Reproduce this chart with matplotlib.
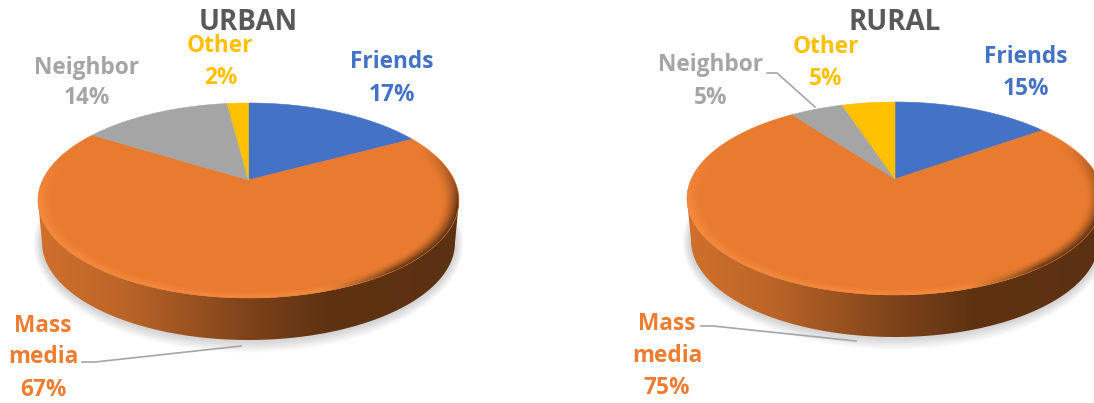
# two tilted pie charts with a thick rim, urban vs rural
import numpy as np
from matplotlib import pyplot as plt
from matplotlib.patches import Polygon
from matplotlib.path import Path
from matplotlib.transforms import Affine2D, Transform
from matplotlib.colors import LinearSegmentedColormap

categories = ['Friends', 'Mass\nmedia', 'Neighbor', 'Other']
urban_values = [17, 67, 14, 2]
rural_values = [15, 75, 5, 5]
colors = ['#4472C4', '#E97B30', '#A5A5A5', '#FFC000']
label_colors = ['#4472C4', '#ED7D31', '#A5A5A5', '#FFC000']

plt.rcParams['font.family'] = ['Open Sans', 'DejaVu Sans']

W, H = 1094, 403


# maps the unit disc of ax.pie onto a pie seen in perspective (pixel coordinates)
class DiscPerspective(Transform):
    input_dims = 2
    output_dims = 2
    has_inverse = False

    def __init__(self, cx, apex_y, top, bottom, half_width):
        super().__init__()
        self.cx = cx
        self.apex_y = apex_y
        self.k = (top + bottom - 2 * apex_y) / (bottom - top)
        self.b = top * (1 + self.k) - apex_y
        self.c = half_width * np.sqrt(1 - self.k ** 2)

    def transform_non_affine(self, values):
        values = np.asarray(values, dtype=float)
        x, y = values[:, 0], values[:, 1]
        d = 1 + self.k * y
        return np.column_stack([self.cx + self.c * x / d, (self.apex_y + self.b * y) / d])

    def transform_path_non_affine(self, path):
        # flatten the arcs first, control points do not survive the projection
        big = path.transformed(Affine2D().scale(500)).to_polygons(closed_only=True)[0] / 500
        return Path(self.transform_non_affine(big), closed=True)


def half_ellipse(cx, cy, rx, ry, start, end, n=200):
    t = np.linspace(start, end, n)
    return np.column_stack([cx + rx * np.cos(t), cy + ry * np.sin(t)])


def draw_pie(ax, values, cx, apex_y, top, bottom, half_width, rim):
    cy = (top + bottom) / 2
    ry = (bottom - top) / 2

    # soft shadow under the rim
    for i in range(14):
        grow = 14 - i
        pts = half_ellipse(cx, cy + rim + 1, half_width + grow * 0.55 - 3, ry + grow * 0.85, 0, 2 * np.pi)
        ax.add_patch(Polygon(pts, closed=True, fc='#000000', ec='none', alpha=0.011, zorder=1))

    # rim, darkening from left to right
    rim_cmap = LinearSegmentedColormap.from_list('rim', [
        (0.0, '#D0702C'), (0.2, '#BC6528'), (0.5, '#7E431A'),
        (0.68, '#5F3312'), (1.0, '#5C3111')])
    side = np.vstack([half_ellipse(cx, cy, half_width, ry, np.pi, 0),
                      half_ellipse(cx, cy + rim, half_width - 4, ry, 0, np.pi)])
    clip = Polygon(side, closed=True, fc='none', ec='none', transform=ax.transData)
    ax.add_patch(clip)
    grad = np.linspace(0, 1, 256).reshape(1, -1)
    im = ax.imshow(grad, cmap=rim_cmap, aspect='auto', zorder=2, interpolation='bilinear',
                   extent=(cx - half_width, cx + half_width, cy + rim + ry, cy))
    im.set_clip_path(clip)

    # top face
    disc = DiscPerspective(cx, apex_y, top, bottom, half_width)
    wedges, _ = ax.pie(values, colors=colors, startangle=90, counterclock=False,
                       wedgeprops={'linewidth': 0.4, 'zorder': 3})
    for w in wedges:
        w.set_edgecolor(w.get_facecolor())
        w.set_transform(disc + ax.transData)

    # bevel along the lower edge: light on the left, dark on the right
    xs = np.linspace(cx - half_width, cx + half_width, 840)
    ys = np.linspace(cy - ry, cy + ry, 400)
    gx, gy = np.meshgrid(xs, ys)
    nx = (gx - cx) / half_width
    ny = (gy - cy) / ry
    rho = np.sqrt(nx ** 2 + ny ** 2)
    edge = np.clip((rho - 0.92) / 0.08, 0, 1) ** 1.6
    fade = np.clip((ny + 0.55) / 0.6, 0, 1)
    tone = np.clip((nx - 0.35) / 0.35, 0, 1)
    light = np.array([0.97, 0.56, 0.26])
    dark = np.array([0.34, 0.18, 0.06])
    rgba = np.zeros(gx.shape + (4,))
    rgba[..., :3] = light + (dark - light) * tone[..., None]
    rgba[..., 3] = edge * fade * (0.85 + 0.15 * tone) * (rho <= 1.0)
    ax.imshow(rgba, aspect='auto', zorder=4, interpolation='bilinear',
              extent=(xs[0], xs[-1], ys[-1], ys[0]))


def draw_labels(ax, values, spots):
    for name, value, color, spot in zip(categories, values, label_colors, spots):
        lines = name.split('\n') + ['%d%%' % value]
        for line, (x, y) in zip(lines, spot):
            ax.text(x, y, line, color=color, fontsize=16.3, fontweight='bold',
                    ha='center', va='center', zorder=6)


def leader(ax, xs, ys):
    ax.plot(xs, ys, color='#A6A6A6', lw=1.2, solid_joinstyle='round', zorder=5)


fig = plt.figure(figsize=(W / 100, H / 100), dpi=100, facecolor='white')
ax = fig.add_axes([0, 0, 1, 1])

draw_pie(ax, urban_values, 248.5, 180, 103, 298, 210.5, 42)
draw_pie(ax, rural_values, 895, 179, 102, 295, 208, 42)

ax.text(248, 22, 'URBAN', color='#595959', fontsize=20, fontweight='bold', ha='center', va='center')
ax.text(895, 23, 'RURAL', color='#595959', fontsize=20, fontweight='bold', ha='center', va='center')

draw_labels(ax, urban_values, [
    [(392, 62), (392, 95)],
    [(43, 326), (43, 357), (43, 390)],
    [(87, 68), (87, 98)],
    [(220, 46), (221, 78)],
])
draw_labels(ax, rural_values, [
    [(1026, 57), (1026, 89)],
    [(667, 324), (667, 356), (667, 388)],
    [(711, 65), (711, 98)],
    [(826, 47), (826, 79)],
])

leader(ax, [82, 95, 241], [362, 362, 346])
leader(ax, [701, 713, 856], [326, 326, 341])
leader(ax, [767, 777, 815], [73, 73, 107])

ax.set_aspect('auto')
ax.set_xlim(0, W)
ax.set_ylim(H, 0)
ax.axis('off')

fig.savefig('out.png', dpi=100, facecolor='white')
